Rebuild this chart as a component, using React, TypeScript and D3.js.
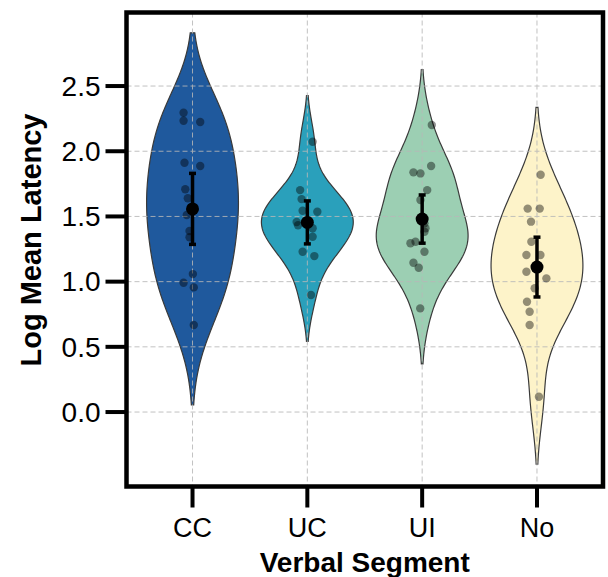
import * as d3 from "d3";

// categories and palette
const categories = ["CC", "UC", "UI", "No"];
const fills = ["#1f599d", "#2aa0bb", "#9ccfb3", "#fdf3c9"];

// log mean latency per participant
const ccValues = [2.295, 2.234, 2.224, 1.912, 1.887, 1.708, 1.639, 1.511, 1.388, 1.34, 1.058, 0.992, 0.956, 0.667];
const ucValues = [2.073, 1.702, 1.633, 1.544, 1.536, 1.457, 1.432, 1.409, 1.344, 1.229, 1.196, 0.897];
const uiValues = [2.201, 1.887, 1.838, 1.83, 1.702, 1.626, 1.447, 1.409, 1.383, 1.306, 1.294, 1.229, 1.145, 1.107, 0.795];
const noValues = [1.82, 1.56, 1.56, 1.46, 1.306, 1.204, 1.204, 1.076, 1.025, 0.949, 0.846, 0.769, 0.667, 0.117];

// horizontal jitter of the strip points (category units)
const ccJitter = [-0.078, -0.078, 0.067, -0.07, 0.067, -0.063, -0.041, -0.05, -0.026, -0.026, 0.003, -0.078, 0.011, 0.011];
const ucJitter = [0.046, -0.063, -0.05, -0.041, 0.087, -0.093, -0.081, 0.046, 0.046, -0.041, 0.061, 0.032];
const uiJitter = [0.084, 0.078, -0.076, -0.015, 0.044, -0.015, 0.02, 0.029, 0.02, -0.058, -0.102, 0.02, -0.076, -0.03, -0.017];
const noJitter = [0.032, -0.081, 0.024, -0.052, -0.049, -0.092, 0.03, -0.092, 0.082, -0.02, -0.087, -0.064, -0.064, 0.017];

const yTicks = [0, 0.5, 1, 1.5, 2, 2.5];

const groups = [
  { values: ccValues, jitter: ccJitter },
  { values: ucValues, jitter: ucJitter },
  { values: uiValues, jitter: uiJitter },
  { values: noValues, jitter: noJitter },
];

const W = 608;
const H = 577;
const box = { left: 126.5, right: 603, top: 12.5, bottom: 486.5 };
const font = "'Liberation Sans', Arial, Helvetica, sans-serif";

const x = d3.scaleLinear().domain([-0.575, 3.575]).range([box.left, box.right]);
const y = d3.scaleLinear().domain([-0.571, 3.064]).range([box.bottom, box.top]);

// gaussian kde like scipy (scott bandwidth), cut = 2, scaled to equal width
function violinPath(values: number[], center: number) {
  const n = values.length;
  const sd = d3.deviation(values) as number;
  const bw = sd * Math.pow(n, -0.2);
  const lo = (d3.min(values) as number) - 2 * bw;
  const hi = (d3.max(values) as number) + 2 * bw;
  const steps = 200;
  const grid = d3.range(steps + 1).map(i => lo + (i * (hi - lo)) / steps);
  const dens = grid.map(g => d3.sum(values, v => Math.exp(-0.5 * ((g - v) / bw) ** 2)));
  const maxD = d3.max(dens) as number;
  const pts = grid.map((g, i) => ({ v: g, w: (0.4 * dens[i]) / maxD }));
  const area = d3.area<{ v: number; w: number }>()
    .y(d => y(d.v))
    .x0(d => x(center - d.w))
    .x1(d => x(center + d.w));
  return area(pts) as string;
}

export default function App() {
  const stats = groups.map(g => {
    const m = d3.mean(g.values) as number;
    const se = (d3.deviation(g.values) as number) / Math.sqrt(g.values.length);
    return { mean: m, lo: m - 1.96 * se, hi: m + 1.96 * se };
  });

  return (
    <svg width={W} height={H} style={{ position: "absolute", left: 0, top: 0, background: "#fff" }}>
      {/* violins */}
      {groups.map((g, i) => (
        <path key={"v" + i} d={violinPath(g.values, i)} fill={fills[i]} stroke="#3a3a3a" strokeWidth={1.2} />
      ))}

      {/* grid */}
      <g stroke="#b8b8b8" strokeWidth={1} strokeDasharray="5,3" opacity={0.85}>
        {yTicks.map(t => (
          <line key={"gy" + t} x1={box.left} x2={box.right} y1={y(t)} y2={y(t)} />
        ))}
        {categories.map((c, i) => (
          <line key={"gx" + c} x1={x(i)} x2={x(i)} y1={box.top} y2={box.bottom} />
        ))}
      </g>

      {/* strip points */}
      {groups.map((g, i) => (
        <g key={"p" + i}>
          {g.values.map((v, j) => (
            <circle key={j} cx={x(i + g.jitter[j])} cy={y(v)} r={4.2} fill="#000" fillOpacity={0.42} />
          ))}
        </g>
      ))}

      {/* means with 95% ci */}
      {stats.map((s, i) => (
        <g key={"m" + i}>
          <line x1={x(i)} x2={x(i)} y1={y(s.lo)} y2={y(s.hi)} stroke="#000" strokeWidth={3.5} />
          <line x1={x(i) - 3.5} x2={x(i) + 3.5} y1={y(s.lo)} y2={y(s.lo)} stroke="#000" strokeWidth={3.5} />
          <line x1={x(i) - 3.5} x2={x(i) + 3.5} y1={y(s.hi)} y2={y(s.hi)} stroke="#000" strokeWidth={3.5} />
          <circle cx={x(i)} cy={y(s.mean)} r={6.5} fill="#000" />
        </g>
      ))}

      {/* frame */}
      <rect x={box.left} y={box.top} width={box.right - box.left} height={box.bottom - box.top}
        fill="none" stroke="#000" strokeWidth={4.5} />

      {/* y axis */}
      {yTicks.map(t => (
        <g key={"ty" + t}>
          <line x1={box.left - 21} x2={box.left} y1={y(t)} y2={y(t)} stroke="#000" strokeWidth={4} />
          <text x={box.left - 26} y={y(t)} dy="0.35em" textAnchor="end" fontFamily={font} fontSize={28} fill="#000">
            {t.toFixed(1)}
          </text>
        </g>
      ))}

      {/* x axis */}
      {categories.map((c, i) => (
        <g key={"tx" + c}>
          <line x1={x(i)} x2={x(i)} y1={box.bottom} y2={box.bottom + 21} stroke="#000" strokeWidth={4} />
          <text x={x(i)} y={537} textAnchor="middle" fontFamily={font} fontSize={27} fill="#000">
            {c}
          </text>
        </g>
      ))}

      <text x={(box.left + box.right) / 2} y={572} textAnchor="middle" fontFamily={font} fontSize={28} fontWeight="bold">
        Verbal Segment
      </text>
      <text transform={`translate(41,240) rotate(-90)`} textAnchor="middle"
        fontFamily={font} fontSize={29} fontWeight="bold">
        Log Mean Latency
      </text>
    </svg>
  );
}
